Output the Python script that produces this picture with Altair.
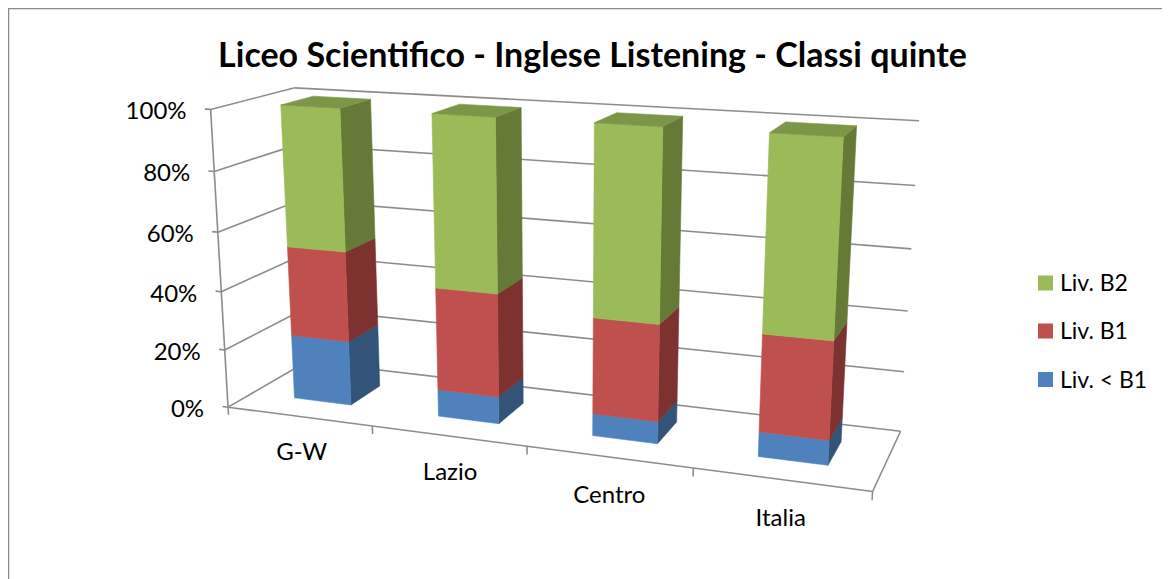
import numpy as np
import pandas as pd
import altair as alt

categories = ["G-W", "Lazio", "Centro", "Italia"]
series_names = ["Liv. < B1", "Liv. B1", "Liv. B2"]
liv_low = [22.2, 9.1, 7.3, 8.0]
liv_b1 = [30.6, 34.5, 31.6, 31.2]
liv_b2 = [47.2, 56.4, 61.1, 60.8]
value_ticks = [0, 20, 40, 60, 80, 100]

FRONT = ["#4F81BD", "#C0504D", "#9BBB59"]
SIDE = ["#325479", "#7D3230", "#657A37"]
TOP_GREEN = "#7C9647"
GRID = "#8C8C8C"
FONT = "Lato"

# Camera: calibrated from box/bar corners (u = category axis, v = share 0..1, d = depth 0..1)
calib = [
    ((0, 1, 0), (210.7, 109.3)), ((0, 1, 1), (295, 87.7)), ((4, 1, 1), (919.3, 120.7)),
    ((0, 0, 0), (228.3, 406.7)), ((4, 0, 0), (872.7, 491)), ((4, 0, 1), (900.7, 431)),
    ((0, 0, 1), (307, 361.6)), ((1, 0, 0), (372.3, 426.7)), ((2, 0, 0), (527.3, 446.7)),
    ((3, 0, 0), (693.3, 468.3)),
    ((.3, 1, .3), (280.7, 105)), ((.7, 1, .3), (340, 108.3)), ((.7, 1, .7), (370, 99.3)),
    ((.3, 1, .7), (313.3, 96.3)), ((.3, 0, .3), (294.3, 397.7)), ((.7, 0, .3), (351, 404.7)),
    ((.7, 0, .7), (379.3, 386)),
    ((3.3, 1, .3), (769.3, 132.7)), ((3.7, 1, .3), (843.3, 136.7)), ((3.7, 1, .7), (856.3, 126)),
    ((3.3, 1, .7), (785.7, 122.3)), ((3.3, 0, .3), (758.3, 456.7)), ((3.7, 0, .3), (827.7, 465.3)),
    ((3.7, 0, .7), (841, 441.7)),
]
rows = []
for (u, v, d), (x, y) in calib:
    rows.append([u, v, d, 1, 0, 0, 0, 0, -x * u, -x * v, -x * d, -x])
    rows.append([0, 0, 0, 0, u, v, d, 1, -y * u, -y * v, -y * d, -y])
P = np.linalg.svd(np.array(rows, float))[2][-1].reshape(3, 4)


def proj(u, v, d):
    h = P @ np.array([u, v, d, 1.0])
    return h[0] / h[2], h[1] / h[2]


# Bars as projected faces
faces = []
fid = 0


def add_face(pts, col):
    global fid
    for k, p in enumerate(pts):
        x, y = proj(*p)
        faces.append({"x": x, "y": y, "face": fid, "vertex": k, "col": col})
    fid += 1


D0, D1 = 0.3, 0.7
for i in range(len(categories)):
    u0, u1 = i + 0.3, i + 0.7
    base = 0.0
    for s, vals in enumerate([liv_low, liv_b1, liv_b2]):
        top = base + vals[i] / 100
        add_face([(u1, base, D0), (u1, base, D1), (u1, top, D1), (u1, top, D0)], SIDE[s])
        add_face([(u0, base, D0), (u1, base, D0), (u1, top, D0), (u0, top, D0)], FRONT[s])
        base = top
    add_face([(u0, base, D0), (u1, base, D0), (u1, base, D1), (u0, base, D1)], TOP_GREEN)
faces = pd.DataFrame(faces)

# Walls, floor, ticks
segs = []
sid = 0


def add_seg(a, b):
    global sid
    for k, p in enumerate([a, b]):
        x, y = proj(*p)
        segs.append({"x": x, "y": y, "seg": sid, "vertex": k})
    sid += 1


for t in value_ticks:
    v = t / 100
    add_seg((-0.04, v, 0), (0, v, 0))
    add_seg((0, v, 0), (0, v, 1))
    add_seg((0, v, 1), (4, v, 1))
add_seg((0, 0, 0), (0, 1, 0))
add_seg((0, 0, 0), (4, 0, 0))
add_seg((4, 0, 0), (4, 0, 1))
for i in range(5):
    add_seg((i, 0, 0), (i, -0.027, 0))
segs = pd.DataFrame(segs)

X = alt.X("x:Q", axis=None, scale=alt.Scale(domain=[8, 1162], range=[0, 1154], nice=False, zero=False))
Y = alt.Y("y:Q", axis=None, scale=alt.Scale(domain=[8, 579], range=[0, 571], nice=False, zero=False))

grid_layer = alt.Chart(segs).mark_line(strokeWidth=1.6, color=GRID).encode(
    x=X, y=Y, detail="seg:N", order="vertex:Q")

bar_layer = alt.Chart(faces).mark_line(interpolate="linear-closed", strokeWidth=0.6).encode(
    x=X, y=Y, detail="face:N", order="vertex:Q",
    fill=alt.Fill("col:N", scale=None), stroke=alt.Stroke("col:N", scale=None))

val_labels = pd.DataFrame([
    {"x": proj(0, t / 100, 0)[0] - 24, "y": proj(0, t / 100, 0)[1] + 3, "text": f"{t}%"} for t in value_ticks])
val_layer = alt.Chart(val_labels).mark_text(font=FONT, fontSize=24, align="right", baseline="middle", color="#000").encode(
    x=X, y=Y, text="text:N")

cat_labels = pd.DataFrame([
    {"x": proj(i + 0.5, -0.127, 0)[0] + 1, "y": proj(i + 0.5, -0.127, 0)[1], "text": c} for i, c in enumerate(categories)])
cat_layer = alt.Chart(cat_labels).mark_text(font=FONT, fontSize=24, align="center", baseline="middle", color="#000").encode(
    x=X, y=Y, text="text:N")

title_layer = alt.Chart(pd.DataFrame([{"x": 592.5, "y": 57, "text": "Liceo Scientifico - Inglese Listening - Classi quinte"}])).mark_text(
    font=FONT, fontSize=34, fontWeight="bold", align="center", baseline="middle", color="#000").encode(
    x=X, y=Y, text="text:N")

legend_rows = pd.DataFrame({
    "name": series_names[::-1], "col": FRONT[::-1],
    "x": [1045.5] * 3, "tx": [1060] * 3, "y": [283, 331, 379.5]})
legend_sym = alt.Chart(legend_rows).mark_square(size=225, opacity=1, filled=True).encode(
    x=X, y=Y, fill=alt.Fill("col:N", scale=None))
legend_txt = alt.Chart(legend_rows).mark_text(font=FONT, fontSize=23, align="left", baseline="middle", color="#000", dy=1).encode(
    x=alt.X("tx:Q", axis=None, scale=alt.Scale(domain=[8, 1162], range=[0, 1154], nice=False, zero=False)),
    y=Y, text="name:N")

border = pd.DataFrame([
    {"x": 8.5, "y": 579, "seg": 0, "vertex": 0}, {"x": 8.5, "y": 8.5, "seg": 0, "vertex": 1},
    {"x": 1162, "y": 8.5, "seg": 0, "vertex": 2}])
border_layer = alt.Chart(border).mark_line(strokeWidth=1.5, color="#8A8A8A").encode(
    x=X, y=Y, detail="seg:N", order="vertex:Q")

chart = alt.layer(border_layer, grid_layer, bar_layer, val_layer, cat_layer, title_layer, legend_sym, legend_txt).properties(
    width=1154, height=571, padding=0, background="white",
    autosize=alt.AutoSizeParams(type="none")
).configure_view(stroke=None)

chart.save("out.html", embed_options={"renderer": "svg", "actions": False})
